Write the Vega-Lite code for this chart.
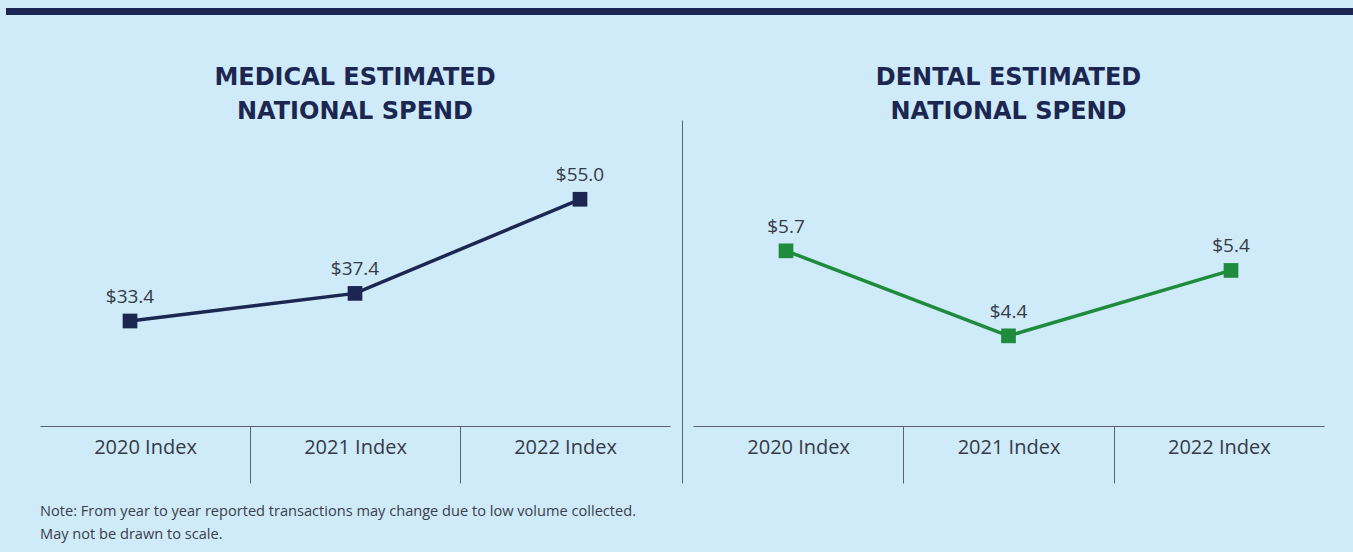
{
  "$schema": "https://vega.github.io/schema/vega-lite/v6.json",
  "background": "#cfeaf8",
  "padding": {"left": 6, "top": 8, "right": 0, "bottom": 10},
  "config": {"view": {"stroke": null}},
  "title": {
    "text": ["Note: From year to year reported transactions may change due to low volume collected.", "May not be drawn to scale."],
    "orient": "bottom",
    "anchor": "start",
    "font": "Open Sans",
    "fontSize": 14.6,
    "fontWeight": "normal",
    "color": "#3a404a",
    "lineHeight": 23,
    "baseline": "top",
    "offset": 20,
    "dx": 34
  },
  "spacing": 51,
  "vconcat": [
    {
      "width": 1347,
      "height": 7,
      "data": {"values": [{"band": 1}]},
      "mark": {"type": "rect", "color": "#1b2651"},
      "encoding": {}
    },
    {
      "spacing": 11,
      "hconcat": [
        {
          "width": 22,
          "height": 363,
          "data": {"values": [{"blank": 0}]},
          "mark": {"type": "rect", "opacity": 0},
          "encoding": {}
        },
        {
          "width": 630,
          "height": 363,
          "title": {
            "text": ["MEDICAL ESTIMATED", "NATIONAL SPEND"],
            "anchor": "middle",
            "font": "DejaVu Sans",
            "fontSize": 24,
            "fontWeight": "bold",
            "color": "#1b2651",
            "lineHeight": 34,
            "offset": -4
          },
          "data": {"values": [
            {"year": "2020 Index", "value": 33.4},
            {"year": "2021 Index", "value": 37.4},
            {"year": "2022 Index", "value": 55.0}
          ]},
          "encoding": {
            "y": {
              "field": "value", "type": "quantitative",
              "scale": {"type": "log", "domain": [17.2, 76.1], "nice": false, "zero": false},
              "axis": null
            }
          },
          "layer": [
            {
              "mark": {"type": "point", "opacity": 0},
              "encoding": {
                "x": {
                  "field": "year", "type": "nominal", "sort": null,
                  "scale": {"type": "band", "paddingInner": 0, "paddingOuter": 0},
                  "axis": {
                    "title": null, "orient": "bottom", "offset": -57, "tickBand": "extent",
                    "tickSize": 57, "tickWidth": 1,
                    "tickColor": {"condition": {"test": "datum.extra || datum.value === '2022 Index'", "value": "transparent"}, "value": "#5a6270"},
                    "domainColor": "#5a6270", "domainWidth": 1,
                    "labelFont": "Open Sans", "labelFontSize": 20, "labelColor": "#343a46",
                    "labelPadding": -36, "labelBaseline": "middle", "labelAngle": 0
                  }
                }
              }
            },
            {
              "encoding": {
                "x": {"field": "year", "type": "nominal", "sort": null, "scale": {"type": "point", "padding": 0.4}, "axis": null}
              },
              "layer": [
                {"mark": {"type": "line", "color": "#1b2651", "strokeWidth": 3.5}},
                {"mark": {"type": "point", "shape": "square", "size": 216, "filled": true, "opacity": 1, "color": "#1b2651"}},
                {"mark": {"type": "text", "font": "Open Sans", "fontSize": 19, "color": "#343a46", "dy": -18, "baseline": "alphabetic", "align": "center"},
                 "encoding": {"text": {"field": "value", "type": "quantitative", "format": "$.1f"}}}
              ]
            }
          ],
          "resolve": {"scale": {"x": "independent"}, "axis": {"x": "independent"}}
        },
        {
          "width": 631,
          "height": 363,
          "title": {
            "text": ["DENTAL ESTIMATED", "NATIONAL SPEND"],
            "anchor": "middle",
            "font": "DejaVu Sans",
            "fontSize": 24,
            "fontWeight": "bold",
            "color": "#1b2651",
            "lineHeight": 34,
            "offset": -4
          },
          "data": {"values": [
            {"year": "2020 Index", "value": 5.7},
            {"year": "2021 Index", "value": 4.4},
            {"year": "2022 Index", "value": 5.4}
          ]},
          "encoding": {
            "y": {
              "field": "value", "type": "quantitative",
              "scale": {"type": "linear", "domain": [2.15, 7.7], "nice": false, "zero": false},
              "axis": {"title": null, "labels": false, "ticks": false, "grid": false, "domain": true, "domainColor": "#5a6270", "domainWidth": 1, "offset": 11}
            }
          },
          "layer": [
            {
              "mark": {"type": "point", "opacity": 0},
              "encoding": {
                "x": {
                  "field": "year", "type": "nominal", "sort": null,
                  "scale": {"type": "band", "paddingInner": 0, "paddingOuter": 0},
                  "axis": {
                    "title": null, "orient": "bottom", "offset": -57, "tickBand": "extent",
                    "tickSize": 57, "tickWidth": 1,
                    "tickColor": {"condition": {"test": "datum.extra || datum.value === '2022 Index'", "value": "transparent"}, "value": "#5a6270"},
                    "domainColor": "#5a6270", "domainWidth": 1,
                    "labelFont": "Open Sans", "labelFontSize": 20, "labelColor": "#343a46",
                    "labelPadding": -36, "labelBaseline": "middle", "labelAngle": 0
                  }
                }
              }
            },
            {
              "encoding": {
                "x": {"field": "year", "type": "nominal", "sort": null, "scale": {"type": "point", "padding": 0.418}, "axis": null}
              },
              "layer": [
                {"mark": {"type": "line", "color": "#1f8b3d", "strokeWidth": 3.5}},
                {"mark": {"type": "point", "shape": "square", "size": 216, "filled": true, "opacity": 1, "color": "#1f8b3d"}},
                {"mark": {"type": "text", "font": "Open Sans", "fontSize": 19, "color": "#343a46", "dy": -18, "baseline": "alphabetic", "align": "center"},
                 "encoding": {"text": {"field": "value", "type": "quantitative", "format": "$.1f"}}}
              ]
            }
          ],
          "resolve": {"scale": {"x": "independent"}, "axis": {"x": "independent"}}
        }
      ]
    }
  ]
}
